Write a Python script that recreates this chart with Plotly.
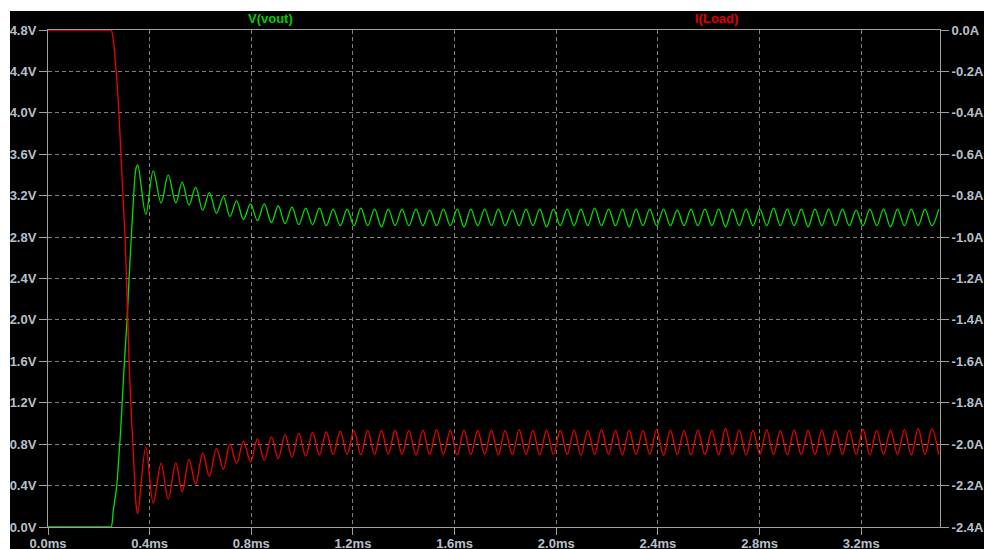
import plotly.graph_objects as go

# ---------------- data (time in ms) ----------------
# start-up edge of the output voltage (V)
t_start_v = [0.000, 0.240, 0.248, 0.257, 0.270, 0.277, 0.286, 0.294, 0.302,
             0.311, 0.319, 0.327, 0.336, 0.342, 0.347]
vout_start = [0.00, 0.00, 0.00, 0.16, 0.39, 0.61, 0.94, 1.30, 1.65,
              2.00, 2.40, 2.77, 3.15, 3.38, 3.47]

# start-up edge of the load current (A)
t_start_i = [0.000, 0.240, 0.248, 0.268, 0.279, 0.287, 0.295, 0.303, 0.309,
             0.314, 0.319, 0.326, 0.334, 0.342, 0.348]
iload_start = [0.000, 0.000, 0.000, -0.200, -0.400, -0.600, -0.800, -1.000, -1.200,
               -1.400, -1.600, -1.800, -2.000, -2.200, -2.310]

# ringing: successive extrema of both waveforms (ms)
t_ring = [
    0.353, 0.385, 0.414, 0.445, 0.473, 0.503, 0.528, 0.555, 0.581, 0.609,
    0.635, 0.663, 0.690, 0.716, 0.742, 0.769, 0.797, 0.824, 0.851, 0.879,
    0.906, 0.933, 0.960, 0.987, 1.014, 1.041, 1.068, 1.095, 1.122, 1.150,
    1.177, 1.204, 1.231, 1.258, 1.285, 1.312, 1.339, 1.366, 1.393, 1.420,
    1.448, 1.475, 1.502, 1.529, 1.556, 1.583, 1.610, 1.637, 1.664, 1.691,
    1.718, 1.745, 1.772, 1.799, 1.827, 1.854, 1.881, 1.908, 1.935, 1.962,
    1.989, 2.016, 2.043, 2.070, 2.097, 2.124, 2.151, 2.178, 2.206, 2.233,
    2.260, 2.287, 2.314, 2.341, 2.368, 2.395, 2.422, 2.449, 2.476, 2.503,
    2.530, 2.557, 2.585, 2.612, 2.639, 2.666, 2.693, 2.720, 2.747, 2.774,
    2.801, 2.828, 2.855, 2.882, 2.909, 2.936, 2.964, 2.991, 3.018, 3.045,
    3.072, 3.099, 3.126, 3.153, 3.180, 3.207, 3.234, 3.261, 3.288, 3.315,
    3.343, 3.370, 3.397, 3.424, 3.451, 3.478, 3.505,
]

vout_ring = [
    3.50, 3.02, 3.44, 3.13, 3.40, 3.13, 3.33, 3.11, 3.28, 3.06,
    3.23, 3.03, 3.19, 3.00, 3.15, 2.97, 3.12, 2.96, 3.12, 2.94,
    3.10, 2.93, 3.09, 2.92, 3.08, 2.92, 3.08, 2.91, 3.07, 2.91,
    3.07, 2.91, 3.08, 2.91, 3.07, 2.90, 3.07, 2.91, 3.07, 2.91,
    3.07, 2.91, 3.06, 2.91, 3.07, 2.91, 3.07, 2.90, 3.07, 2.91,
    3.07, 2.91, 3.07, 2.91, 3.06, 2.91, 3.07, 2.91, 3.07, 2.90,
    3.07, 2.91, 3.07, 2.91, 3.07, 2.91, 3.08, 2.91, 3.07, 2.91,
    3.07, 2.90, 3.07, 2.91, 3.07, 2.91, 3.07, 2.91, 3.06, 2.91,
    3.07, 2.91, 3.07, 2.91, 3.07, 2.90, 3.07, 2.91, 3.07, 2.91,
    3.07, 2.91, 3.08, 2.91, 3.07, 2.91, 3.07, 2.90, 3.07, 2.91,
    3.07, 2.91, 3.07, 2.91, 3.06, 2.91, 3.07, 2.91, 3.07, 2.90,
    3.07, 2.91, 3.07, 2.91, 3.07, 2.91, 3.07,
]

iload_ring = [
    -2.335, -2.013, -2.285, -2.093, -2.265, -2.090, -2.230, -2.073, -2.193, -2.043,
    -2.155, -2.020, -2.120, -2.000, -2.093, -1.985, -2.085, -1.975, -2.078, -1.965,
    -2.070, -1.955, -2.063, -1.948, -2.058, -1.943, -2.053, -1.940, -2.050, -1.937,
    -2.050, -1.935, -2.052, -1.933, -2.050, -1.933, -2.048, -1.932, -2.050, -1.933,
    -2.052, -1.932, -2.050, -1.930, -2.050, -1.933, -2.053, -1.932, -2.050, -1.933,
    -2.050, -1.932, -2.052, -1.933, -2.050, -1.930, -2.050, -1.933, -2.052, -1.932,
    -2.050, -1.933, -2.050, -1.932, -2.053, -1.933, -2.050, -1.930, -2.050, -1.933,
    -2.052, -1.932, -2.050, -1.933, -2.050, -1.930, -2.055, -1.932, -2.050, -1.933,
    -2.052, -1.932, -2.050, -1.933, -2.052, -1.924, -2.050, -1.932, -2.053, -1.933,
    -2.050, -1.930, -2.050, -1.933, -2.052, -1.932, -2.050, -1.933, -2.050, -1.932,
    -2.053, -1.933, -2.050, -1.932, -2.050, -1.928, -2.052, -1.933, -2.050, -1.932,
    -2.050, -1.930, -2.053, -1.925, -2.050, -1.926, -2.050,
]

# axis ticks
x_ticks = [0.0, 0.4, 0.8, 1.2, 1.6, 2.0, 2.4, 2.8, 3.2]
x_labels = ["0.0ms", "0.4ms", "0.8ms", "1.2ms", "1.6ms", "2.0ms", "2.4ms", "2.8ms", "3.2ms"]
v_ticks = [0.0, 0.4, 0.8, 1.2, 1.6, 2.0, 2.4, 2.8, 3.2, 3.6, 4.0, 4.4, 4.8]
v_labels = ["0.0V", "0.4V", "0.8V", "1.2V", "1.6V", "2.0V", "2.4V", "2.8V",
            "3.2V", "3.6V", "4.0V", "4.4V", "4.8V"]
i_ticks = [-2.4, -2.2, -2.0, -1.8, -1.6, -1.4, -1.2, -1.0, -0.8, -0.6, -0.4, -0.2, 0.0]
i_labels = ["-2.4A", "-2.2A", "-2.0A", "-1.8A", "-1.6A", "-1.4A", "-1.2A", "-1.0A",
            "-0.8A", "-0.6A", "-0.4A", "-0.2A", "0.0A"]

# ---------------- styling ----------------
W, H = 984, 549
ML, MR, MT, MB = 48, 44, 30, 22
PW, PH = W - ML - MR, H - MT - MB

GREEN = "#00e000"
RED = "#f00000"
FRAME = "#a0a0a0"
GRID = "#808080"
LABEL = "#b8c0cc"
tick_font = dict(family="Liberation Sans, Arial, sans-serif", size=13, color=LABEL, weight="bold")

t_vout = t_start_v + t_ring
vout = vout_start + vout_ring
t_iload = t_start_i + t_ring
iload = iload_start + iload_ring

fig = go.Figure()
fig.add_trace(go.Scatter(
    x=t_vout, y=vout, mode="lines", name="V(vout)",
    line=dict(color=GREEN, width=1.3, shape="spline", smoothing=1.0),
    showlegend=False, hoverinfo="skip",
))
fig.add_trace(go.Scatter(
    x=t_iload, y=iload, mode="lines", name="I(Load)", yaxis="y2",
    line=dict(color=RED, width=1.3, shape="spline", smoothing=1.0),
    showlegend=False, hoverinfo="skip",
))

axis_common = dict(
    showline=True, linecolor=FRAME, linewidth=1,
    ticks="outside", tickcolor=FRAME, tickwidth=1,
    zeroline=False, tickfont=tick_font, layer="below traces",
)

fig.update_layout(
    width=W, height=H,
    margin=dict(l=ML, r=MR, t=MT, b=MB, pad=0, autoexpand=False),
    paper_bgcolor="white",
    plot_bgcolor="black",
    xaxis=dict(
        range=[0, 3.51], tickvals=x_ticks, ticktext=x_labels, mirror=True, ticklen=7,
        ticklabelstandoff=-3,
        showgrid=True, gridcolor=GRID, gridwidth=1, griddash="4px,3px",
        **axis_common,
    ),
    yaxis=dict(
        range=[0, 4.8], tickvals=v_ticks, ticktext=v_labels, ticklen=8,
        showgrid=True, gridcolor=GRID, gridwidth=1, griddash="4px,3px",
        **axis_common,
    ),
    yaxis2=dict(
        range=[-2.4, 0], tickvals=i_ticks, ticktext=i_labels, ticklen=8,
        overlaying="y", side="right", anchor="x", showgrid=False,
        **axis_common,
    ),
    shapes=[dict(
        type="rect", xref="paper", yref="paper", layer="below",
        x0=(10 - ML) / PW, x1=(W - ML) / PW,
        y0=-MB / PH, y1=1 + (MT - 11) / PH,
        fillcolor="black", line=dict(width=0),
    )],
    annotations=[
        dict(text="V(vout)", xref="paper", yref="paper",
             x=(270 - ML) / PW, y=1 + (MT - 18) / PH, xanchor="center", yanchor="middle",
             showarrow=False,
             font=dict(family="Liberation Sans, Arial, sans-serif", size=13,
                       color="#00cc00", weight="bold")),
        dict(text="I(Load)", xref="paper", yref="paper",
             x=(716 - ML) / PW, y=1 + (MT - 18) / PH, xanchor="center", yanchor="middle",
             showarrow=False,
             font=dict(family="Liberation Sans, Arial, sans-serif", size=13,
                       color="#e00000", weight="bold")),
    ],
)

fig.write_html("out.html")
